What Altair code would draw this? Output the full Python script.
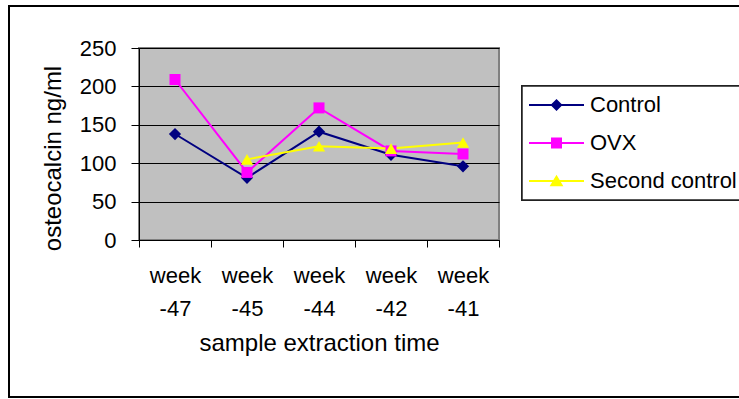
import altair as alt
import pandas as pd

weeks = ["week -47", "week -45", "week -44", "week -42", "week -41"]
series_names = ["Control", "OVX", "Second control"]
control = [138, 81, 141, 111, 96]
ovx = [209, 88, 172, 116, 112]
second_control = [None, 105, 122, 119, 127]
y_ticks = [0, 50, 100, 150, 200, 250]

colors = ["#000080", "#FF00FF", "#FFFF00"]
shapes = ["diamond", "square", "triangle-up"]
line_path = "M-1,-0.036H1V0.036H-1Z"
legend_paths = [
    line_path + "M-0.22,0L0,-0.22L0.22,0L0,0.22Z",
    line_path + "M-0.2,-0.2H0.2V0.2H-0.2Z",
    line_path + "M0,-0.23L0.25,0.19L-0.25,0.19Z",
]

rows = []
for name, vals in zip(series_names, [control, ovx, second_control]):
    for w, v in zip(weeks, vals):
        if v is not None:
            rows.append({"week": w, "value": v, "series": name})
df = pd.DataFrame(rows)

FONT = "Liberation Sans"

x_enc = alt.X(
    "week:N",
    bandPosition=0.5,
    sort=weeks,
    scale=alt.Scale(type="band", domain=weeks, paddingInner=0, paddingOuter=0),
    axis=alt.Axis(
        title="sample extraction time",
        labelAngle=0,
        labelExpr="split(datum.label, ' ')",
        labelFont=FONT, labelFontSize=22, labelColor="black",
        labelBaseline="top", labelPadding=18, labelLineHeight=33,
        tickBand="extent", tickSize=7, tickColor="black",
        domainColor="black", grid=False,
        titleFont=FONT, titleFontSize=24, titleFontWeight="normal",
        titleColor="black", titleY=110, titleBaseline="alphabetic",
    ),
)
y_enc = alt.Y(
    "value:Q",
    scale=alt.Scale(domain=[0, 250], nice=False),
    axis=alt.Axis(
        title="osteocalcin ng/ml",
        values=y_ticks,
        labelFont=FONT, labelFontSize=22, labelColor="black",
        labelPadding=15, tickSize=8, tickColor="black",
        domainColor="black", gridColor="black", gridWidth=1, gridOpacity=1,
        titleFont=FONT, titleFontSize=24, titleFontWeight="normal",
        titleColor="black", titleX=-79, titleY=110, titleAlign="center",
        titleBaseline="alphabetic", titleAngle=270,
    ),
)
color_scale = alt.Scale(domain=series_names, range=colors)

# invisible carrier layer for the legend (marks pushed out of view and clipped)
legend_layer = alt.Chart(df).mark_point(
    filled=True, opacity=1, clip=True, yOffset=2000
).encode(
    x=x_enc, y=y_enc,
    color=alt.Color(
        "series:N", scale=color_scale,
        legend=alt.Legend(
            title=None, orient="none", legendX=383, legendY=38,
            padding=0, symbolOffset=7, symbolSize=3025, clipHeight=38,
            rowPadding=0, labelOffset=6, labelFont=FONT, labelFontSize=22,
            labelColor="black", symbolStrokeWidth=0, symbolOpacity=1,
            labelLimit=400,
        ),
    ),
    shape=alt.Shape("series:N", scale=alt.Scale(domain=series_names, range=legend_paths)),
)

# outer chart frame and legend frame (right edges run off the canvas)
border = alt.Chart(df).mark_rect(
    fillOpacity=0, stroke="black", strokeWidth=2
).encode(
    x=alt.value(-130), x2=alt.value(640),
    y=alt.value(-42), y2=alt.value(349),
)
legend_box = alt.Chart(df).mark_rect(
    fill="white", stroke="#222222", strokeWidth=1.5
).encode(
    x=alt.value(383), x2=alt.value(640),
    y=alt.value(38), y2=alt.value(152),
)

lines = alt.Chart(df).mark_line(strokeWidth=2).encode(
    x=x_enc, y=y_enc,
    color=alt.Color("series:N", scale=color_scale, legend=None),
    detail="series:N",
)

point_layers = []
for name, shp in zip(series_names, shapes):
    point_layers.append(
        alt.Chart(df).transform_filter(alt.datum.series == name).mark_point(
            filled=True, opacity=1, shape=shp,
            size=150 if shp != "square" else 121,
        ).encode(
            x=x_enc, y=y_enc,
            color=alt.Color("series:N", scale=color_scale, legend=None),
        )
    )

chart = alt.layer(legend_layer, border, legend_box, lines, *point_layers).properties(
    width=360, height=192,
    autosize=alt.AutoSizeParams(type="none"),
    padding={"left": 139, "top": 48, "right": 240, "bottom": 159},
    background="white",
).configure_view(
    fill="#C0C0C0", stroke="#808080", strokeWidth=2
)

chart.save("out.html", embed_options={"renderer": "svg", "actions": False})
